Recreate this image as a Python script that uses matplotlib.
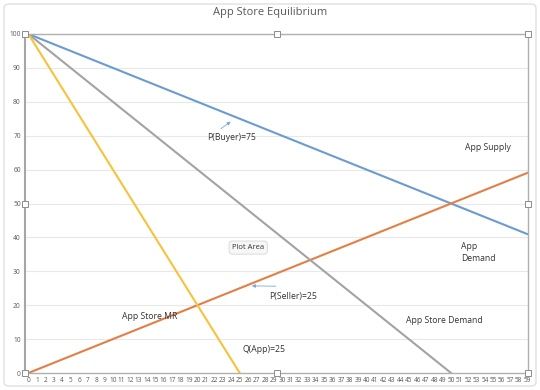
import matplotlib.pyplot as plt
from matplotlib.patches import FancyBboxPatch

# series (straight lines, given by their end points)
supply_x = [0, 59]
supply_y = [100, 41]
seller_x = [0, 59]
seller_y = [0, 59]
demand_x = [0, 50]
demand_y = [100, 0]
mr_x = [0, 25]
mr_y = [100, 0]

categories = list(range(60))
y_ticks = list(range(0, 101, 10))

plt.rcParams['font.family'] = ['Open Sans', 'DejaVu Sans']

fig = plt.figure(figsize=(5.4, 3.9), dpi=100)
ax = fig.add_axes([25/540, 1-373/390, 503/540, 339/390])

# outer chart frame
fig.patches.append(FancyBboxPatch((4/540, 4/390), 532/540, 382/390,
                                  boxstyle="round,pad=0,rounding_size=0.01",
                                  transform=fig.transFigure, fill=False,
                                  ec='#d9d9d9', lw=0.8))

for y in y_ticks[1:]:
    ax.axhline(y, color='#e8e8e8', lw=0.8, zorder=0)

ax.plot(supply_x, supply_y, color='#6a9bd2', lw=1.5)
ax.plot(seller_x, seller_y, color='#e57e44', lw=1.5)
ax.plot(demand_x, demand_y, color='#a3a3a3', lw=1.5)
ax.plot(mr_x, mr_y, color='#f7c23c', lw=1.5)

ax.set_xlim(-0.4, 59.1)
ax.set_ylim(0, 100)
ax.set_xticks(categories)
ax.set_xticklabels([str(c) for c in categories], fontsize=4.7, color='#595959')
ax.set_yticks(y_ticks)
ax.set_yticklabels([str(v) for v in y_ticks], fontsize=4.8, color='#595959')
ax.tick_params(length=0, pad=3)

for side in ['right', 'top', 'bottom']:
    ax.spines[side].set_color('#b0b0b0')
    ax.spines[side].set_linewidth(1.0)
ax.spines['left'].set_color('#a6a6a6')
ax.spines['left'].set_linewidth(1.5)

# selection handles of the plot area
for hx, hy in [(0, 0), (0.5, 0), (1, 0), (0, 0.5), (1, 0.5), (0, 1), (0.5, 1), (1, 1)]:
    ax.plot(hx, hy, 's', transform=ax.transAxes, ms=4, mfc='white',
            mec='#8c8c8c', mew=0.7, clip_on=False, zorder=5)

fig.text(0.5, 1-13/390, 'App Store Equilibrium', ha='center', va='center',
         fontsize=8, color='#595959')

fs = 6.2
tc = '#333333'
ax.text(21.1, 69.6, 'P(Buyer)=75', fontsize=fs, va='center', color=tc)
ax.annotate('', xy=(24.2, 74.6), xytext=(22.5, 71.6),
            arrowprops=dict(arrowstyle='-|>', color='#7ea6d8', lw=0.6,
                            mutation_scale=5))
ax.text(51.6, 66.5, 'App Supply', fontsize=fs, va='center', color=tc)
ax.text(51.2, 35.6, 'App\nDemand', fontsize=fs, va='center', linespacing=1.5,
        color=tc)
ax.text(26.0, 37.0, 'Plot Area', fontsize=5.5, ha='center', va='center',
        color=tc,
        bbox=dict(boxstyle='round,pad=0.4', fc='#f7f7f7', ec='#cfcfcf', lw=0.5))
ax.text(11.1, 16.8, 'App Store MR', fontsize=fs, va='center', color=tc)
ax.text(28.5, 22.6, 'P(Seller)=25', fontsize=fs, va='center', color=tc)
ax.annotate('', xy=(26.1, 25.7), xytext=(29.6, 25.6),
            arrowprops=dict(arrowstyle='-|>', color='#7ea6d8', lw=0.6,
                            mutation_scale=5))
ax.text(44.7, 15.6, 'App Store Demand', fontsize=fs, va='center', color=tc)
ax.text(25.3, 6.8, 'Q(App)=25', fontsize=fs, va='center', color=tc)

fig.savefig('out.png', dpi=100)
